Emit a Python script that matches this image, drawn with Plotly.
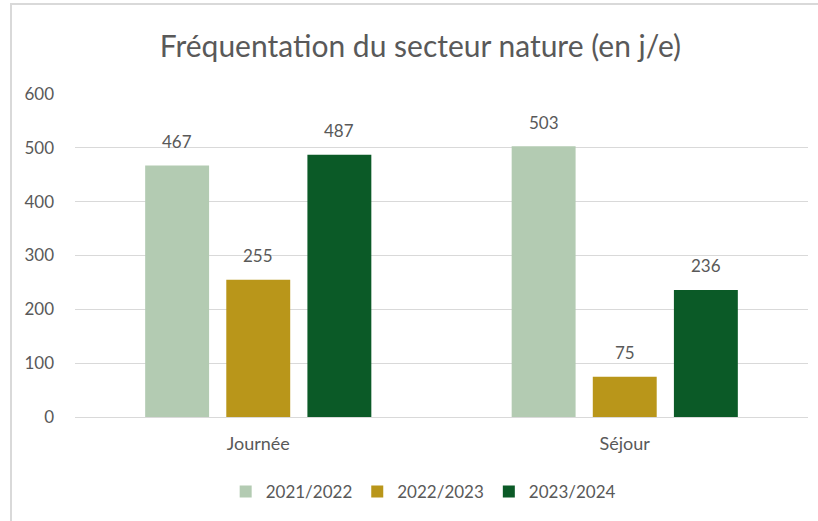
import plotly.graph_objects as go

categories = ["Journée", "Séjour"]
series_names = ["2021/2022", "2022/2023", "2023/2024"]
values_2021 = [467, 503]
values_2022 = [255, 75]
values_2023 = [487, 236]
colors = ["#b3cbb2", "#b9961a", "#0b5a27"]
y_ticks = [0, 100, 200, 300, 400, 500, 600]

series_values = [values_2021, values_2022, values_2023]
BARGAP = 0.336
BARGROUPGAP = 0.212
FONT = "Lato, Liberation Sans, sans-serif"
TEXT_COLOR = "#595959"

fig = go.Figure()
for name, vals, col in zip(series_names, series_values, colors):
    fig.add_trace(go.Bar(
        x=categories, y=vals, name=name,
        marker=dict(color=col, line=dict(width=0)),
    ))

# data labels above bars
n = len(series_names)
slot = (1 - BARGAP) / n
annotations = []
for j, vals in enumerate(series_values):
    off = (j - (n - 1) / 2) * slot
    for i, v in enumerate(vals):
        annotations.append(dict(
            x=i + off, y=v, xref="x", yref="y", text=str(v),
            showarrow=False, yanchor="middle", yshift=24,
            font=dict(family=FONT, size=17, color=TEXT_COLOR),
        ))

fig.update_layout(
    width=818, height=521,
    margin=dict(l=75, r=10, t=94, b=104),
    paper_bgcolor="white", plot_bgcolor="white",
    barmode="group", bargap=BARGAP, bargroupgap=BARGROUPGAP,
    font=dict(family=FONT, color=TEXT_COLOR),
    title=dict(
        text="Fréquentation du secteur nature (en j/e)",
        x=0.514, xanchor="center", y=1 - 46 / 521, yanchor="middle",
        font=dict(family=FONT, size=30, color=TEXT_COLOR),
    ),
    legend=dict(
        orientation="h", x=0.475, xanchor="center", y=-0.232, yanchor="middle",
        font=dict(family=FONT, size=17, color=TEXT_COLOR),
        itemwidth=30, traceorder="normal",
    ),
    annotations=annotations,
    shapes=[dict(
        type="rect", xref="paper", yref="paper",
        x0=(11 - 75) / 733, x1=1.2, y0=-0.6, y1=(417 - 4) / 323,
        line=dict(color="#d9d9d9", width=2), fillcolor="rgba(0,0,0,0)",
        layer="below",
    )],
)
fig.update_xaxes(
    showgrid=False, showline=False, ticks="",
    tickfont=dict(family=FONT, size=18, color=TEXT_COLOR),
    ticklabelstandoff=14,
)
fig.update_yaxes(
    range=[0, 600], tickvals=y_ticks,
    showgrid=True, gridcolor="#d9d9d9", gridwidth=1,
    zeroline=True, zerolinecolor="#d9d9d9", zerolinewidth=1,
    showline=False, ticks="",
    tickfont=dict(family=FONT, size=17, color=TEXT_COLOR),
    ticklabelstandoff=20,
)

fig.write_html(
    "out.html",
    config={"displayModeBar": False},
    post_script="document.body.style.margin='0';document.body.style.overflow='hidden';",
)
